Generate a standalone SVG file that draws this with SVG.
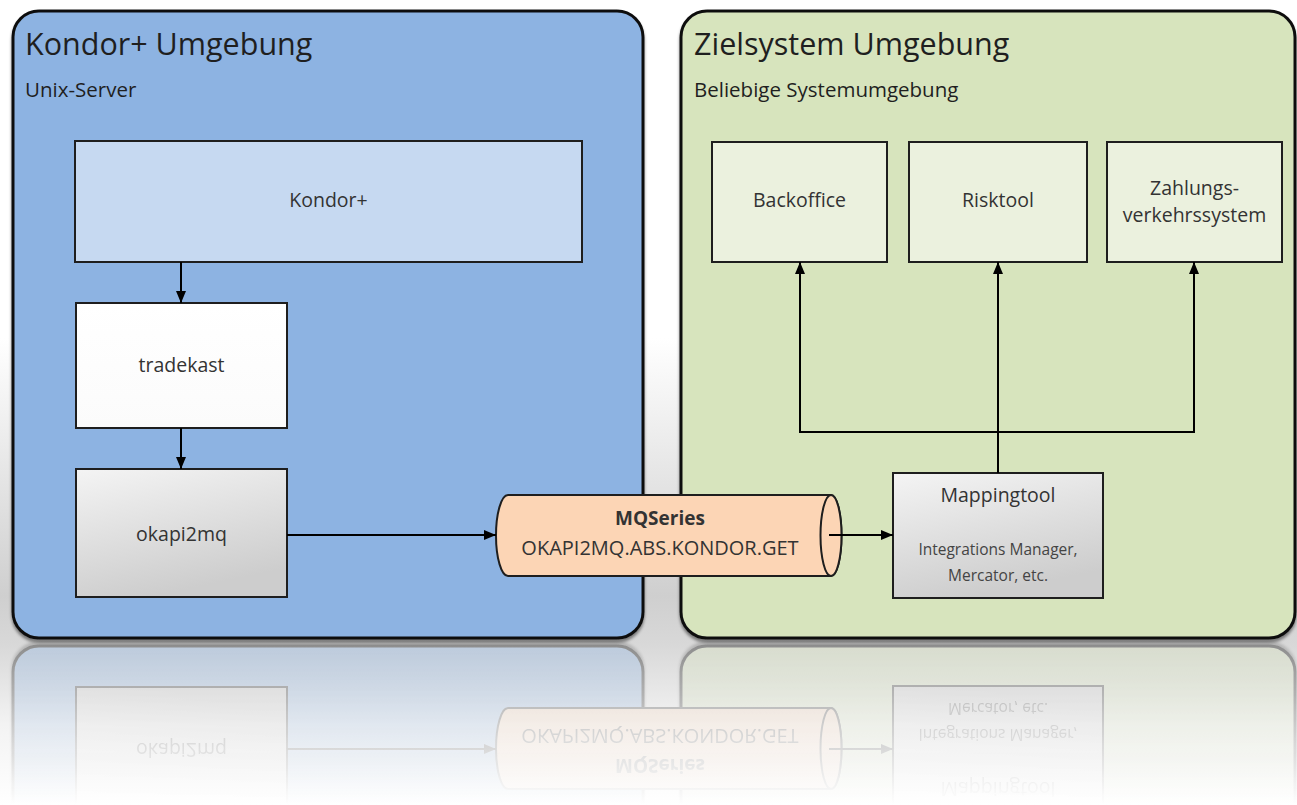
<svg xmlns="http://www.w3.org/2000/svg" xmlns:xlink="http://www.w3.org/1999/xlink" width="1297" height="805" viewBox="0 0 1297 805">
  <style>
    text { font-family: "Open Sans", "Noto Sans", "Liberation Sans", sans-serif; }
    .title { font-size: 30.5px; fill: #1f1f1f; }
    .sub { font-size: 20.5px; fill: #1f1f1f; }
    .lbl { font-size: 19.5px; fill: #333333; text-anchor: middle; }
    .small { font-size: 15.5px; fill: #444444; text-anchor: middle; }
    .box { stroke: #1e1e1e; stroke-width: 2; }
    .cont { stroke: #111111; stroke-width: 3; }
    .conn { fill: none; stroke: #000000; stroke-width: 2; }
  </style>
  <defs>
    <linearGradient id="bg" x1="0" y1="0" x2="0" y2="805" gradientUnits="userSpaceOnUse">
      <stop offset="0" stop-color="#ffffff"/>
      <stop offset="0.42" stop-color="#ffffff"/>
      <stop offset="0.74" stop-color="#cfcfcf"/>
      <stop offset="0.80" stop-color="#d8d8d8"/>
      <stop offset="0.90" stop-color="#f3f3f3"/>
      <stop offset="1" stop-color="#ffffff"/>
    </linearGradient>
    <linearGradient id="grayBox" x1="0" y1="0" x2="0.35" y2="1">
      <stop offset="0" stop-color="#f4f4f4"/>
      <stop offset="1" stop-color="#cdcdcd"/>
    </linearGradient>
    <linearGradient id="whiteBox" x1="0" y1="0" x2="0" y2="1">
      <stop offset="0" stop-color="#ffffff"/>
      <stop offset="1" stop-color="#fbfbfb"/>
    </linearGradient>
    <linearGradient id="fadeGrad" x1="0" y1="641" x2="0" y2="805" gradientUnits="userSpaceOnUse">
      <stop offset="0" stop-color="#ffffff" stop-opacity="0.38"/>
      <stop offset="0.6" stop-color="#ffffff" stop-opacity="0.14"/>
      <stop offset="1" stop-color="#ffffff" stop-opacity="0"/>
    </linearGradient>
    <mask id="fade" maskUnits="userSpaceOnUse" x="0" y="641" width="1297" height="164">
      <rect x="0" y="641" width="1297" height="164" fill="url(#fadeGrad)"/>
    </mask>
    <filter id="soft" x="-2%" y="-2%" width="104%" height="104%">
      <feGaussianBlur stdDeviation="0.7"/>
    </filter>
    <filter id="shadow" x="-5%" y="-5%" width="110%" height="110%">
      <feDropShadow dx="0" dy="3" stdDeviation="1.5" flood-color="#000000" flood-opacity="0.45"/>
    </filter>
    <marker id="arrow" viewBox="0 0 12 10" refX="12" refY="5" markerWidth="12" markerHeight="10" markerUnits="userSpaceOnUse" orient="auto">
      <path d="M0,0 L12,5 L0,10 z" fill="#000000"/>
    </marker>
  </defs>

  <rect x="0" y="0" width="1297" height="805" fill="url(#bg)"/>

  <g id="scene">
    <g id="kondor-umgebung">
      <rect x="13" y="11" width="630" height="627" rx="26" ry="26" fill="#8db3e2" class="cont" filter="url(#shadow)"/>
      <text x="25" y="55" class="title">Kondor+ Umgebung</text>
      <text x="25" y="97" class="sub">Unix-Server</text>
    </g>
    <g id="zielsystem-umgebung">
      <rect x="681" y="11" width="614" height="627" rx="26" ry="26" fill="#d7e4bd" class="cont" filter="url(#shadow)"/>
      <text x="694" y="55" class="title">Zielsystem Umgebung</text>
      <text x="694" y="97" class="sub">Beliebige Systemumgebung</text>
    </g>

    <g id="kondor">
      <rect x="75" y="141" width="507" height="121" fill="#c6d9f1" class="box"/>
      <text x="328.5" y="207" class="lbl">Kondor+</text>
    </g>
    <g id="tradekast">
      <rect x="76" y="303" width="211" height="125" fill="url(#whiteBox)" class="box"/>
      <text x="181.5" y="372" class="lbl">tradekast</text>
    </g>
    <g id="okapi2mq">
      <rect x="76" y="469" width="211" height="128" fill="url(#grayBox)" class="box"/>
      <text x="181.5" y="541" class="lbl">okapi2mq</text>
    </g>

    <g id="mqseries">
      <path d="M508,495 H831 A10.5,40.5 0 0 1 831,576 H508 A12,40.5 0 0 1 508,495 Z" fill="#fcd5b5" stroke="#1e1e1e" stroke-width="2"/>
      <ellipse cx="831" cy="535.5" rx="10.5" ry="40.5" fill="#fcd5b5" stroke="#1e1e1e" stroke-width="2"/>
      <text x="660" y="525" class="lbl" style="font-weight:bold; font-size:19px;">MQSeries</text>
      <text x="660" y="555" class="lbl" style="font-size:20px;">OKAPI2MQ.ABS.KONDOR.GET</text>
    </g>

    <g id="mappingtool">
      <rect x="893" y="473" width="210" height="125" fill="url(#grayBox)" class="box"/>
      <text x="998" y="502" class="lbl">Mappingtool</text>
      <text x="998" y="555" class="small">Integrations Manager,</text>
      <text x="998" y="581" class="small">Mercator, etc.</text>
    </g>

    <g id="backoffice">
      <rect x="712" y="142" width="175" height="120" fill="#ebf1de" class="box"/>
      <text x="799.5" y="207" class="lbl">Backoffice</text>
    </g>
    <g id="risktool">
      <rect x="909" y="142" width="178" height="120" fill="#ebf1de" class="box"/>
      <text x="998" y="207" class="lbl">Risktool</text>
    </g>
    <g id="zahlungsverkehrssystem">
      <rect x="1107" y="142" width="175" height="120" fill="#ebf1de" class="box"/>
      <text x="1194.5" y="195" class="lbl">Zahlungs-</text>
      <text x="1194.5" y="222" class="lbl">verkehrssystem</text>
    </g>

    <g id="connectors">
      <path class="conn" d="M181,262 V303" marker-end="url(#arrow)"/>
      <path class="conn" d="M181,428 V469" marker-end="url(#arrow)"/>
      <path class="conn" d="M287,535 H496" marker-end="url(#arrow)"/>
      <path class="conn" d="M829,535 H893" marker-end="url(#arrow)"/>
      <path class="conn" d="M998,473 V262" marker-end="url(#arrow)"/>
      <path class="conn" d="M998,432 H800 V262" marker-end="url(#arrow)"/>
      <path class="conn" d="M998,432 H1194 V262" marker-end="url(#arrow)"/>
    </g>
  </g>

  <g id="reflection" mask="url(#fade)">
    <use xlink:href="#scene" href="#scene" transform="matrix(1,0,0,-1,0,1284)" filter="url(#soft)"/>
  </g>
</svg>
